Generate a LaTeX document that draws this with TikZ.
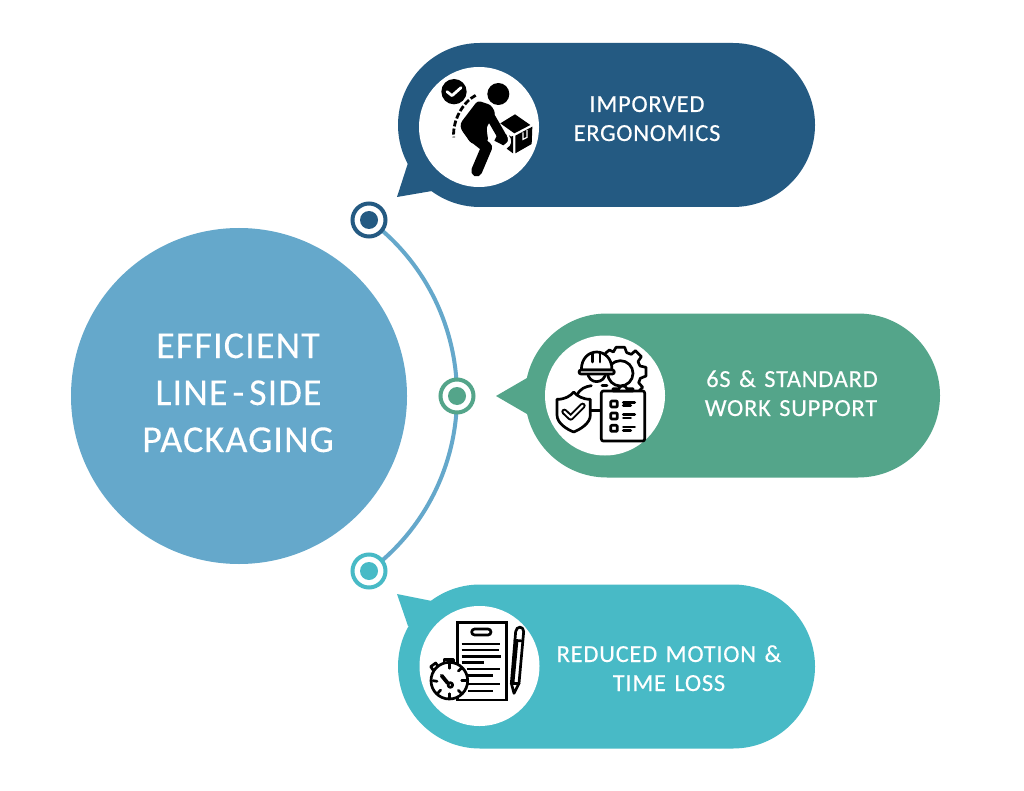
\documentclass[tikz,border=0pt]{standalone}
\usepackage{fontspec}
\setmainfont{Carlito}
\newfontfamily\bigf[LetterSpace=3,FakeBold=0.25]{Carlito}
\newfontfamily\smallf[LetterSpace=3,FakeBold=0.25,WordSpace=1.35]{Carlito}
\usetikzlibrary{shapes.misc,backgrounds}
\definecolor{cblue}{HTML}{245A82}
\definecolor{cgreen}{HTML}{54A58A}
\definecolor{cteal}{HTML}{48BAC6}
\definecolor{clight}{HTML}{65A8CB}
\tikzset{
 pill/.style={rounded rectangle,inner sep=0pt,outer sep=0pt,minimum width=417pt,minimum height=164pt,fill=#1},
 disc/.style={circle,inner sep=0pt,outer sep=0pt,minimum size=120pt,fill=white},
 ring/.style={circle,inner sep=0pt,outer sep=0pt,minimum size=33pt,draw=#1,line width=4pt,fill=white},
 dotin/.style={circle,inner sep=0pt,outer sep=0pt,minimum size=18pt,fill=#1},
 bigt/.style={anchor=base,text=white,inner sep=0pt,font=\bigf\fontsize{38}{42}\selectfont},
 smallt/.style={anchor=base,text=white,inner sep=0pt,font=\smallf\fontsize{24.5}{28}\selectfont},
 iconline/.style={draw=black,line width=2.7pt,line cap=round,line join=round},
 arcline/.style={draw=clight,line width=4pt}
}
\begin{document}
\begin{tikzpicture}[x=1pt,y=-1pt]
\useasboundingbox (0,0) rectangle (1024,791);
\node[circle,inner sep=0pt,outer sep=0pt,minimum size=336pt,fill=clight] (hub) at (239,396) {};
\node[bigt] (h1) at (238,358) {EFFICIENT};
\node[bigt] (h2) at (238.5,405) {LINE\kern5pt-\kern5pt SIDE};
\node[bigt] (h3) at (238,452) {PACKAGING};
% rings
\node[ring=cblue] (r1) at (369,220) {};
\node[dotin=cblue] (d1) at (369,220) {};
\node[ring=cgreen] (r2) at (457,396) {};
\node[dotin=cgreen] (d2) at (457,396) {};
\node[ring=cteal] (r3) at (369,571) {};
\node[dotin=cteal] (d3) at (369,571) {};
\begin{scope}[on background layer]
\fill[white] (0,0) rectangle (1024,791);
\draw[arcline] (r1.center) to[out=-36.5,in=90,looseness=0.9] (r2.center);
\draw[arcline] (r2.center) to[out=-90,in=36.5,looseness=0.9] (r3.center);
\end{scope}
% pills
\fill[cblue] (397,197) -- (408,163) -- (436,170) -- (432,191) -- cycle;
\node[pill=cblue] (p1) at (606.5,125) {};
\fill[cgreen] (496,396) -- (527,378) -- (527,414) -- cycle;
\node[pill=cgreen,minimum width=415pt] (p2) at (732.5,395.5) {};
\fill[cteal] (397,594) -- (432,601) -- (436,625) -- (408,626) -- cycle;
\node[pill=cteal] (p3) at (606.5,666.5) {};
\node[disc] (c1) at (479,127) {};
\node[disc] (c2) at (605,395.5) {};
\node[disc] (c3) at (479.5,666) {};
\node[smallt] (t1a) at (647,112) {IMPORVED};
\node[smallt] (t1b) at (647,141) {ERGONOMICS};
\node[smallt] (t2a) at (792,387) {6S \& STANDARD};
\node[smallt] (t2b) at (791,416) {WORK SUPPORT};
\node[smallt] (t3a) at (669,662) {REDUCED MOTION \&};
\node[smallt] (t3b) at (669,691) {TIME LOSS};
% icon 1: worker lifting box
\begin{scope}[shift={(435,70)},x=1pt/3,y=-1pt/3]
\fill[black] (57,65) circle (38);
\draw[white,line width=2.8pt,line cap=round,line join=round] (36,65) -- (51,77) -- (78,53);
\fill[black] (190,72) circle (33);
\draw[black,line width=2.8pt,dash pattern=on 6pt off 2.2pt,line cap=butt] (122,76) .. controls (85,95) and (52,150) .. (56,202);
\fill[black,rounded corners=3pt] (128,92) -- (168,105) -- (182,130) -- (154,172) -- (160,215) -- (110,222) -- (78,178) -- (76,160) -- cycle;
\draw[black,line width=11pt,line cap=round,line join=round] (112,198) -- (155,232) -- (125,303);
\draw[black,line width=9pt,line cap=round] (158,125) -- (203,203);
\fill[black] (190,188) -- (215,193) -- (222,212) -- (205,226) -- (178,212) -- cycle;
\draw[white,line width=1.5pt] (200,232) .. controls (222,230) and (228,205) .. (212,186);
% box
\fill[black] (196,160) -- (240,133) -- (286,165) -- (238,190) -- cycle;
\fill[black] (228,200) -- (234,198) -- (234,250) -- (215,236) .. controls (232,225) and (232,210) .. (222,196) -- cycle;
\fill[black] (241,197) -- (292,170) -- (290,222) -- (241,250) -- cycle;
\draw[white,line width=1.2pt] (264,187) -- (264,208) -- (276,202) -- (276,180);
\end{scope}
% icon 2: worker, gear, shield, checklist
\begin{scope}[shift={(552,340)},x=1pt/3,y=-1pt/3]
\draw[iconline,fill=white] (205,100) circle (38);
\draw[iconline] (160,40) -- (172,30) -- (184,36) -- (192,22) -- (218,22) -- (224,38) -- (238,43) -- (250,32) -- (268,50) -- (258,65) -- (264,78) -- (282,82) -- (282,108) -- (265,115) -- (260,128) -- (272,142) -- (262,152);
\draw[iconline,fill=white] (107,95) .. controls (107,135) and (160,135) .. (162,95) -- cycle;
\draw[iconline,fill=white] (88,90) .. controls (88,18) and (180,18) .. (180,90) -- cycle;
\draw[iconline] (122,40) -- (122,66);
\draw[iconline] (144,40) -- (144,66);
\draw[iconline,fill=white,rounded corners=2pt] (81,90) rectangle (187,102);
\draw[iconline] (75,165) .. controls (85,145) and (100,140) .. (118,137);
\draw[iconline] (150,137) -- (165,137);
\draw[iconline] (115,211) -- (148,211);
\draw[iconline,fill=white] (15,178) .. controls (40,178) and (55,168) .. (65,156) .. controls (75,168) and (92,178) .. (115,178) -- (115,225) .. controls (115,250) and (85,268) .. (65,276) .. controls (45,268) and (15,250) .. (15,225) -- cycle;
\draw[black,line width=6pt,line cap=round,line join=round] (37,215) -- (56,233) -- (92,197);
\draw[white,line width=2pt,line cap=round,line join=round] (37,215) -- (56,233) -- (92,197);
\draw[iconline,fill=white,rounded corners=2pt] (148,153) rectangle (278,303);
\draw[iconline,fill=white] (183,153) -- (183,146) -- (200,146) .. controls (205,135) and (220,135) .. (225,146) -- (243,146) -- (243,153) -- cycle;
\foreach \yy in {192,228,265}{
  \draw[iconline,rounded corners=1pt] (176,\yy-9) rectangle (196,\yy+9);
}
\foreach \yy/\xa in {187/248,224/248,261/248}{
  \draw[iconline] (214,\yy) -- (\xa,\yy);
  \draw[iconline] (214,\yy+10) -- (236,\yy+10);
}
\end{scope}
% icon 3: document, stopwatch, pencil
\begin{scope}[shift={(425,615)},x=1pt/3,y=-1pt/3]
\draw[iconline,line cap=butt,line join=miter] (97,22) rectangle (245,255);
\draw[iconline,rounded corners=3pt] (140,42) rectangle (198,60);
\foreach \yy/\xa/\xb in {87/110/225,105/110/222,124/110/227,143/110/178,162/125/225,181/130/205,207/130/225,228/130/205}{
  \draw[iconline,line cap=butt] (\xa,\yy) -- (\xb,\yy);
}
\draw[iconline,fill=white] (57,133) rectangle (86,145);
\draw[iconline,fill=white] (65,145) rectangle (78,150);
\draw[iconline,fill=white] (17,155) -- (32,144) -- (40,155) -- (25,166) -- cycle;
\draw[iconline] (36,160) -- (42,168);
\draw[iconline,fill=white] (73,197) circle (55);
\draw[black,line width=3.8pt,line cap=round] (50,182) -- (68,204);
\draw[iconline,fill=white] (76,210) circle (7);
\draw[iconline] (73,146) -- (73,160);
\draw[iconline] (24,197) -- (36,199);
\draw[iconline] (38,235) -- (47,225);
\draw[iconline] (73,248) -- (73,236);
\draw[iconline] (109,235) -- (100,226);
\draw[iconline] (122,197) -- (110,197);
\draw[iconline] (109,160) -- (100,168);
\draw[iconline,fill=white] (272,50) .. controls (274,32) and (296,32) .. (296,50) -- (282,205) -- (267,235) -- (259,205) -- cycle;
\draw[iconline] (269,76) -- (293,78);
\draw[iconline] (259,205) -- (282,205);
\draw[iconline] (276,78) -- (264,205);
\end{scope}
\end{tikzpicture}
\end{document}
